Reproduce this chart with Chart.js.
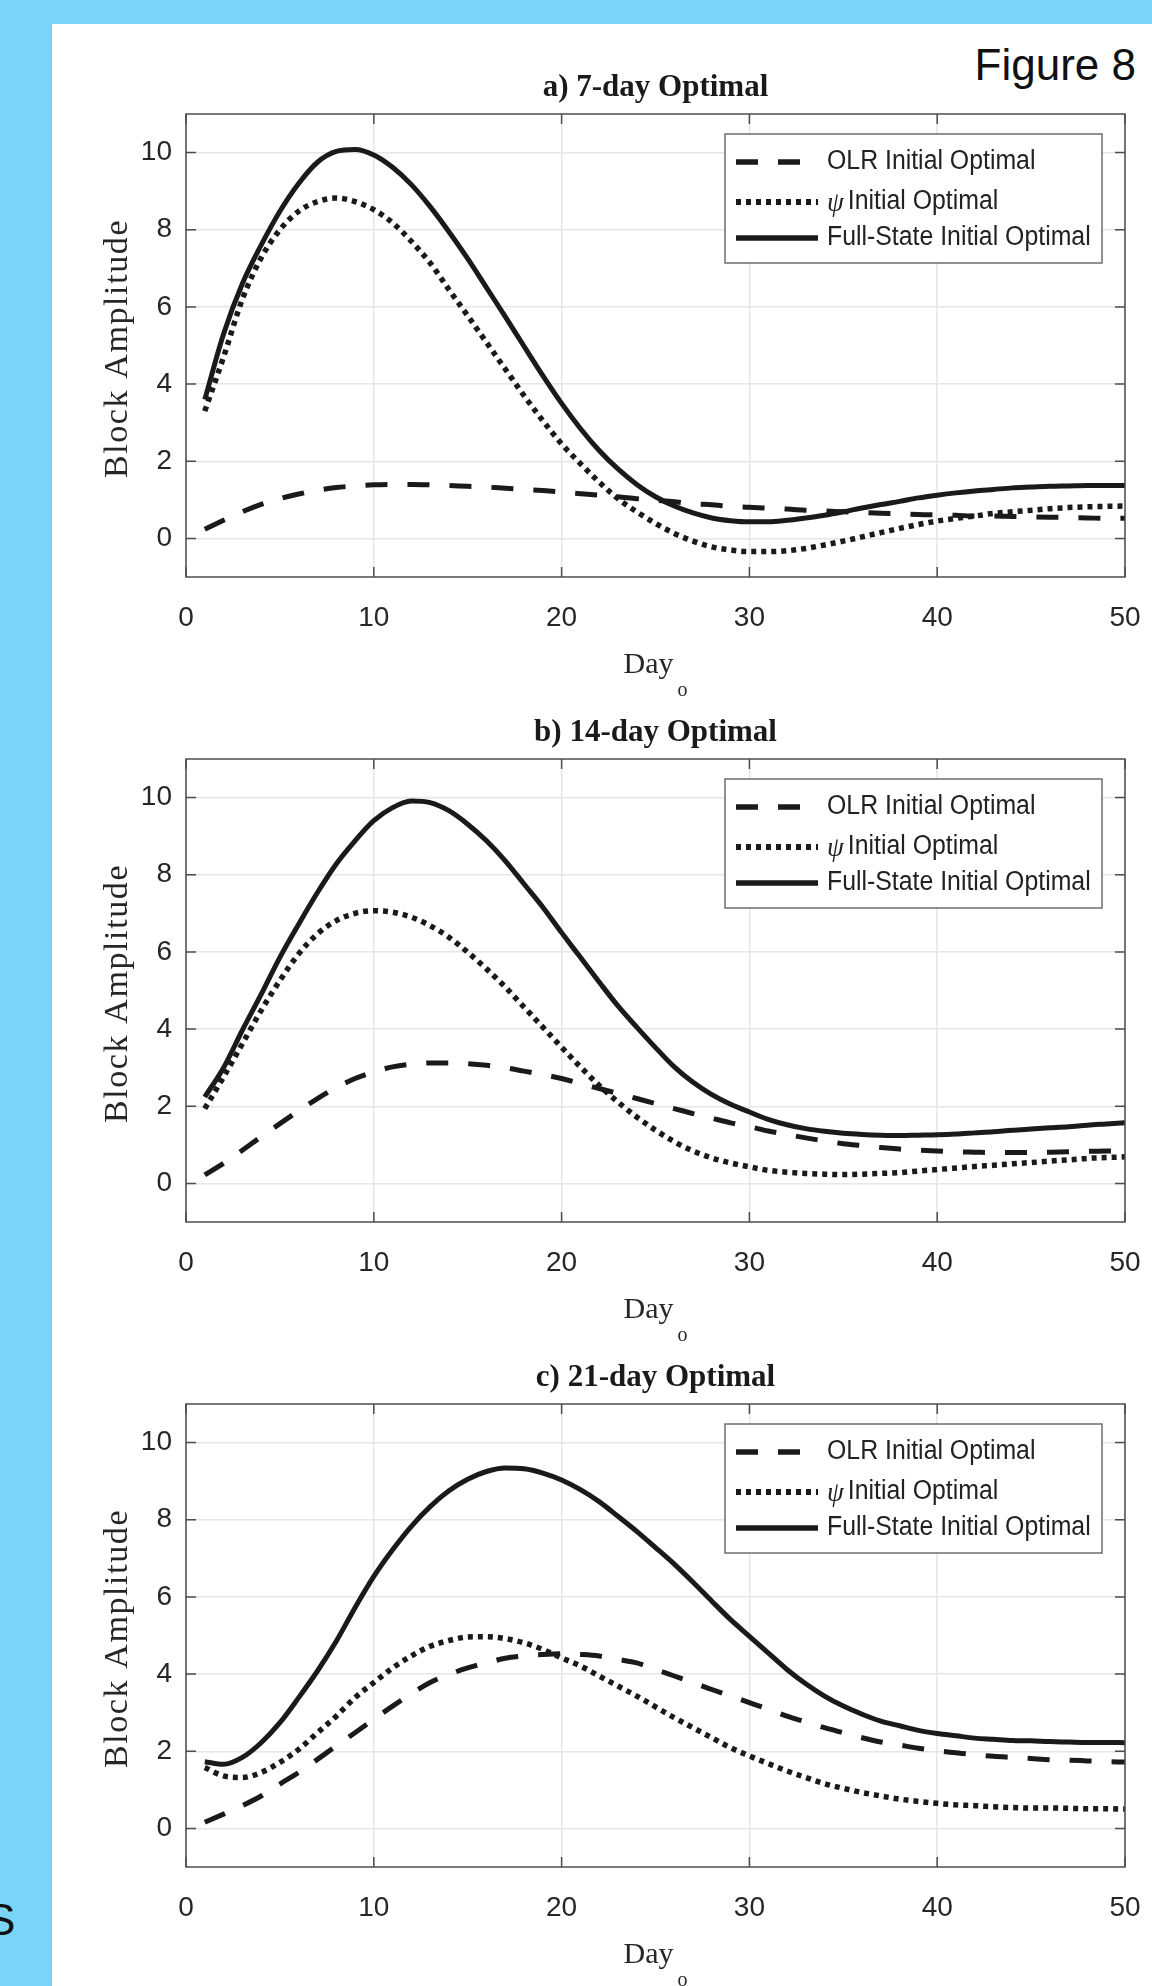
<!DOCTYPE html>
<html lang="en">
<head>
  <meta charset="UTF-8">
  <title>Figure 8 – Block Amplitude</title>
  <script src="https://cdn.jsdelivr.net/npm/chart.js"></script>
  <style>
    body { margin: 0; width: 1152px; height: 1986px; background: #7ad4f8; position: relative; overflow: hidden; font-family: "Liberation Sans", Arial, sans-serif; }
    .sheet { position: absolute; left: 52px; top: 24px; width: 1100px; height: 1962px; background: #fff; }
    .panel { position: absolute; left: 0; }
    .fig { position: absolute; right: 16px; top: 16px; font-size: 44px; color: #111; }
    .side { position: absolute; left: -14px; top: 1895px; font-size: 44px; color: #111; }
  </style>
</head>
<body>
  <div class="sheet">
    <div class="fig">Figure 8</div>
    <canvas class="panel" id="c0" width="1100" height="700" style="top:0px"></canvas>
    <canvas class="panel" id="c1" width="1100" height="700" style="top:645px"></canvas>
    <canvas class="panel" id="c2" width="1100" height="700" style="top:1290px"></canvas>
  </div>
  <div class="side">S</div>

  <script>
    // x positions (days) and axis ticks
    const days = [1,2,3,4,5,6,7,8,9,10,11,12,13,14,15,16,17,18,19,20,21,22,23,24,25,
                  26,27,28,29,30,31,32,33,34,35,36,37,38,39,40,41,42,43,44,45,46,47,48,49,50];
    const xTicks = [0, 10, 20, 30, 40, 50];
    const yTicks = [0, 2, 4, 6, 8, 10];

    const seriesNames = ['OLR Initial Optimal', 'ψ Initial Optimal', 'Full-State Initial Optimal'];
    const panelTitles = ['a) 7-day Optimal', 'b) 14-day Optimal', 'c) 21-day Optimal'];

    // a) 7-day
    const olr7 = [0.24,0.47,0.69,0.88,1.03,1.15,1.25,1.32,1.36,1.39, 1.40,1.40,1.39,1.37,1.35,1.33,1.30,1.27,1.24,1.20,
                  1.16,1.12,1.08,1.03,0.99,0.95,0.90,0.87,0.83,0.81, 0.78,0.76,0.73,0.71,0.69,0.67,0.65,0.64,0.62,0.61,
                  0.60,0.58,0.58,0.57,0.56,0.55,0.54,0.53,0.52,0.52];
    const psi7 = [3.30,4.70,6.20,7.27,8.00,8.48,8.73,8.82,8.73,8.52, 8.18,7.70,7.14,6.45,5.77,5.08,4.39,3.70,3.05,2.45,
                  1.94,1.46,1.03,0.69,0.39,0.13,-0.07,-0.22,-0.30,-0.34, -0.34,-0.32,-0.26,-0.17,-0.07,0.04,0.15,0.26,0.36,0.45,
                  0.52,0.58,0.65,0.69,0.73,0.77,0.80,0.82,0.83,0.84];
    const full7 = [3.60,5.30,6.60,7.60,8.48,9.20,9.75,10.03,10.08,9.94, 9.62,9.17,8.60,7.95,7.25,6.50,5.75,4.98,4.22,3.50,
                   2.85,2.28,1.80,1.40,1.08,0.84,0.66,0.53,0.46,0.43, 0.43,0.47,0.53,0.60,0.69,0.79,0.88,0.96,1.05,1.12,
                   1.18,1.23,1.27,1.31,1.33,1.35,1.36,1.37,1.37,1.37];

    // b) 14-day
    const olr14 = [0.22,0.52,0.86,1.21,1.55,1.88,2.20,2.48,2.72,2.89, 3.02,3.09,3.12,3.12,3.10,3.06,3.00,2.91,2.82,2.72,
                   2.59,2.46,2.33,2.20,2.07,1.94,1.81,1.69,1.57,1.47, 1.36,1.27,1.18,1.10,1.03,0.98,0.93,0.89,0.86,0.84,
                   0.82,0.81,0.80,0.80,0.80,0.81,0.82,0.83,0.84,0.84];
    const psi14 = [1.94,2.76,3.62,4.48,5.26,5.95,6.47,6.81,7.00,7.07, 7.03,6.90,6.68,6.38,5.99,5.56,5.09,4.57,4.05,3.53,
                   3.02,2.54,2.11,1.72,1.38,1.08,0.84,0.66,0.53,0.43, 0.34,0.29,0.26,0.24,0.23,0.24,0.26,0.28,0.32,0.36,
                   0.40,0.44,0.47,0.51,0.54,0.58,0.61,0.65,0.67,0.69];
    const full14 = [2.24,3.00,3.97,4.90,5.86,6.72,7.54,8.28,8.88,9.40, 9.74,9.91,9.87,9.66,9.31,8.88,8.36,7.76,7.16,6.50,
                    5.86,5.22,4.60,4.05,3.52,3.02,2.62,2.30,2.05,1.85, 1.66,1.52,1.42,1.35,1.30,1.27,1.25,1.24,1.25,1.26,
                    1.28,1.31,1.34,1.38,1.41,1.44,1.47,1.51,1.54,1.57];

    // c) 21-day
    const olr21 = [0.16,0.37,0.59,0.84,1.15,1.45,1.79,2.14,2.48,2.83, 3.17,3.49,3.78,3.99,4.16,4.29,4.41,4.47,4.51,4.53,
                   4.51,4.47,4.38,4.29,4.12,3.95,3.78,3.60,3.43,3.26, 3.09,2.91,2.76,2.61,2.48,2.35,2.24,2.16,2.08,2.01,
                   1.96,1.91,1.87,1.84,1.81,1.78,1.77,1.75,1.73,1.72];
    const psi21 = [1.58,1.36,1.32,1.45,1.71,2.05,2.48,2.91,3.39,3.78, 4.16,4.47,4.72,4.87,4.96,4.97,4.92,4.81,4.64,4.42,
                   4.21,3.95,3.69,3.43,3.15,2.87,2.61,2.35,2.09,1.88, 1.68,1.49,1.32,1.16,1.04,0.93,0.84,0.76,0.70,0.65,
                   0.61,0.59,0.56,0.54,0.53,0.53,0.52,0.51,0.51,0.50];
    const full21 = [1.73,1.66,1.84,2.22,2.74,3.39,4.08,4.85,5.72,6.53, 7.22,7.83,8.34,8.75,9.05,9.25,9.34,9.32,9.21,9.03,
                    8.78,8.47,8.09,7.70,7.28,6.85,6.38,5.89,5.41,4.98, 4.55,4.12,3.75,3.43,3.17,2.96,2.78,2.66,2.54,2.46,
                    2.40,2.34,2.31,2.28,2.27,2.25,2.24,2.23,2.23,2.22];

    const panels = [
      [olr7, psi7, full7],
      [olr14, psi14, full14],
      [olr21, psi21, full21]
    ];

    const ink = '#1a1a1a';
    const lineStyles = [
      { borderDash: [22, 20], borderWidth: 5 },
      { borderDash: [5, 5], borderWidth: 5.5 },
      { borderDash: [], borderWidth: 5 }
    ];

    function xyPoints(values) {
      return days.map((d, i) => ({ x: d, y: values[i] }));
    }

    // box, inside ticks, legend and the serif titles
    const decor = {
      id: 'decor',
      afterDraw(chart, args, opts) {
        const { ctx, chartArea: a, scales: { x, y } } = chart;
        ctx.save();

        ctx.strokeStyle = '#4d4d4d';
        ctx.lineWidth = 1.5;
        ctx.setLineDash([]);
        ctx.beginPath();
        xTicks.forEach(v => {
          const px = x.getPixelForValue(v);
          ctx.moveTo(px, a.bottom); ctx.lineTo(px, a.bottom - 10);
          ctx.moveTo(px, a.top); ctx.lineTo(px, a.top + 10);
        });
        yTicks.forEach(v => {
          const py = y.getPixelForValue(v);
          ctx.moveTo(a.left, py); ctx.lineTo(a.left + 10, py);
          ctx.moveTo(a.right, py); ctx.lineTo(a.right - 10, py);
        });
        ctx.stroke();
        ctx.strokeRect(a.left, a.top, a.right - a.left, a.bottom - a.top);

        // legend
        const lw = 377, lh = 129;
        const lx = a.right - 23 - lw, ly = a.top + 20;
        ctx.fillStyle = '#fff';
        ctx.fillRect(lx, ly, lw, lh);
        ctx.strokeStyle = '#6e6e6e';
        ctx.lineWidth = 1.5;
        ctx.strokeRect(lx, ly, lw, lh);
        const rows = [48, 88, 124];
        chart.data.datasets.forEach((ds, i) => {
          const ry = a.top + rows[i];
          ctx.strokeStyle = ds.borderColor;
          ctx.lineWidth = ds.borderWidth + 0.5;
          ctx.lineCap = 'butt';
          ctx.setLineDash(ds.borderDash);
          ctx.beginPath();
          ctx.moveTo(lx + 11, ry);
          ctx.lineTo(lx + 93, ry);
          ctx.stroke();
          ctx.setLineDash([]);

          let tx = lx + 102;
          let label = ds.label;
          ctx.fillStyle = '#222';
          ctx.textBaseline = 'middle';
          ctx.textAlign = 'left';
          if (label.startsWith('ψ')) {
            ctx.font = 'italic 27px "Liberation Serif"';
            ctx.fillText('ψ', tx, ry + 2);
            tx += ctx.measureText('ψ').width + 4;
            label = label.slice(1).trim();
          }
          ctx.save();
          ctx.translate(tx, ry);
          ctx.scale(0.92, 1);
          ctx.font = '27px "Liberation Sans"';
          ctx.fillText(label, 0, 0);
          ctx.restore();
        });

        // panel title
        const cx = (a.left + a.right) / 2;
        ctx.fillStyle = '#1a1a1a';
        ctx.textAlign = 'center';
        ctx.textBaseline = 'alphabetic';
        ctx.font = 'bold 31px "Liberation Serif"';
        ctx.fillText(opts.title, cx, 72);

        // y axis title
        ctx.save();
        ctx.translate(66, (a.top + a.bottom) / 2 + 3);
        ctx.rotate(-Math.PI / 2);
        ctx.font = '34px "Liberation Serif"';
        ctx.letterSpacing = '1.6px';
        ctx.textAlign = 'center';
        ctx.textBaseline = 'middle';
        ctx.fillStyle = '#262626';
        ctx.fillText('Block Amplitude', 0, 0);
        ctx.restore();

        // x axis title: Day with subscript o
        ctx.textAlign = 'left';
        ctx.fillStyle = '#262626';
        ctx.font = '30px "Liberation Serif"';
        const wDay = ctx.measureText('Day').width;
        ctx.font = '20px "Liberation Serif"';
        const wSub = ctx.measureText('o').width;
        const sx = cx - (wDay + 4 + wSub) / 2;
        ctx.font = '30px "Liberation Serif"';
        ctx.fillText('Day', sx, a.bottom + 96);
        ctx.font = '20px "Liberation Serif"';
        ctx.fillText('o', sx + wDay + 4, a.bottom + 119);

        ctx.restore();
      }
    };

    panels.forEach((series, p) => {
      new Chart(document.getElementById('c' + p), {
        type: 'line',
        data: {
          datasets: series.map((vals, i) => ({
            label: seriesNames[i],
            data: xyPoints(vals),
            borderColor: ink,
            borderWidth: lineStyles[i].borderWidth,
            borderDash: lineStyles[i].borderDash,
            borderCapStyle: 'butt',
            pointRadius: 0,
            fill: false,
            cubicInterpolationMode: 'monotone'
          }))
        },
        options: {
          responsive: false,
          animation: false,
          layout: { padding: { top: 90, right: 27, bottom: 55, left: 0 } },
          plugins: {
            legend: { display: false },
            tooltip: { enabled: false },
            decor: { title: panelTitles[p] }
          },
          scales: {
            x: {
              type: 'linear', min: 0, max: 50,
              afterBuildTicks: s => { s.ticks = xTicks.map(v => ({ value: v })); },
              afterFit: s => { s.height = 92; s.paddingLeft = 0; s.paddingRight = 0; },
              grid: { color: '#e6e6e6', lineWidth: 1.5, drawTicks: false },
              border: { display: false },
              ticks: { padding: 24, maxRotation: 0, color: '#262626', font: { family: 'Liberation Sans', size: 28 } }
            },
            y: {
              min: -1, max: 11,
              afterBuildTicks: s => { s.ticks = yTicks.map(v => ({ value: v })); },
              afterFit: s => { s.width = 134; },
              grid: { color: '#e6e6e6', lineWidth: 1.5, drawTicks: false },
              border: { display: false },
              ticks: { padding: 14, color: '#262626', font: { family: 'Liberation Sans', size: 28 } }
            }
          }
        },
        plugins: [decor]
      });
    });
  </script>
</body>
</html>
